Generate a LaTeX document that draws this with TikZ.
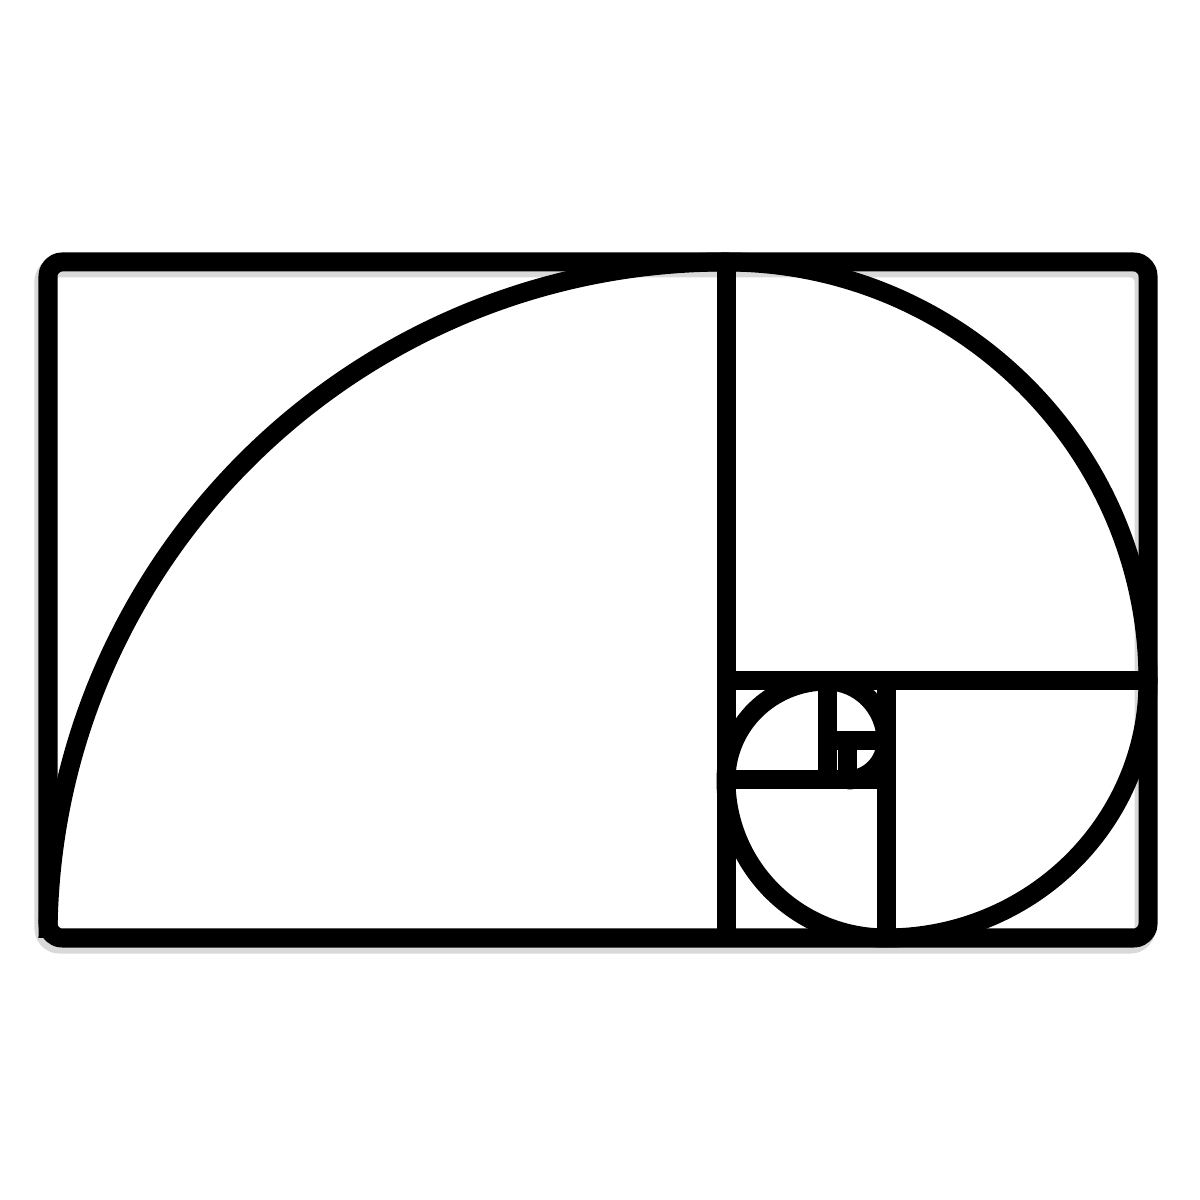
\documentclass[tikz,border=0pt]{standalone}
\begin{document}
\begin{tikzpicture}[x=0.01cm,y=0.01cm,
  frame/.style={line width=0.19cm, line join=round, black},
  divider/.style={line width=0.19cm, black},
  spiral/.style={line width=0.19cm, black, line cap=butt}]
\useasboundingbox (0,0) rectangle (1200,1200);
% soft shadow
\begin{scope}[shift={(-3,-5)}, opacity=0.15]
  \draw[frame, line width=0.21cm, rounded corners=4] (48,262) rectangle (1148,938);
\end{scope}
% outer frame
\draw[frame, rounded corners=4] (48,262) rectangle (1148,938);
% square dividers
\draw[divider] (726,262) -- (726,938);
\draw[divider] (726,519) -- (1148,519);
\draw[divider] (886,262) -- (886,519);
\draw[divider] (726,420) -- (886,420);
\draw[divider] (827,420) -- (827,519);
\draw[divider] (827,459) -- (886,459);
\draw[divider] (847,420) -- (847,459);
% spiral
\draw[spiral] (48,262)
  arc[start angle=180, end angle=90, x radius=678, y radius=676]
  arc[start angle=90, end angle=0, x radius=422, y radius=419]
  arc[start angle=0, end angle=-90, x radius=262, y radius=257]
  arc[start angle=-90, end angle=-180, x radius=160, y radius=158]
  arc[start angle=180, end angle=90, x radius=101, y radius=99]
  arc[start angle=90, end angle=0, x radius=59, y radius=60]
  arc[start angle=0, end angle=-90, x radius=39, y radius=39];
\end{tikzpicture}
\end{document}
